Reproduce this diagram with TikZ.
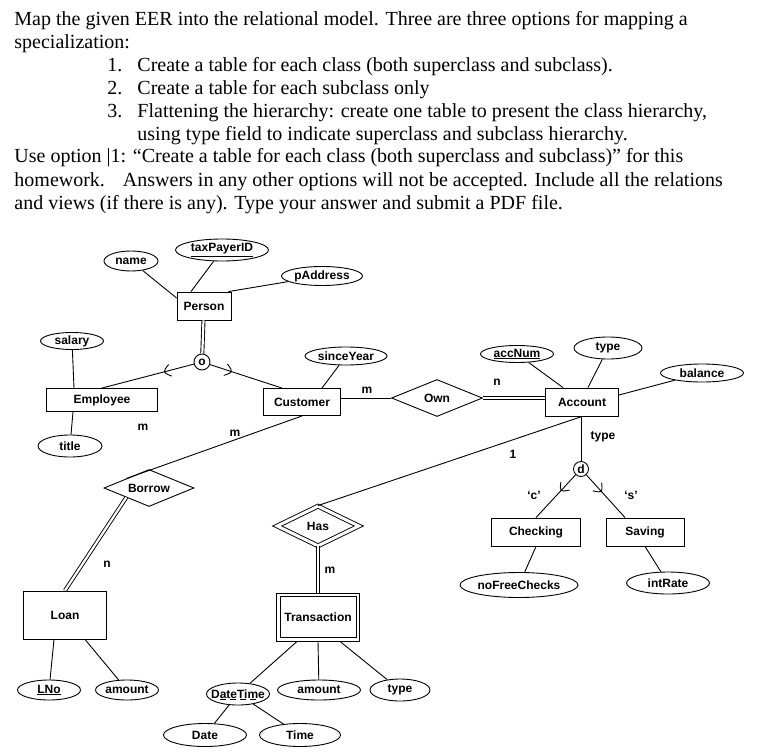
\documentclass[tikz,border=0pt]{standalone}
\usepackage{fontspec}
\setmainfont{Liberation Serif}
\setsansfont{Liberation Sans}
\usetikzlibrary{shapes.geometric,calc}
\newcommand{\subarc}[2]{\draw ($($(#1)!4pt!(#2)$)!6pt!90:(#2)$) .. controls ($(#1)!4pt!180:(#2)$) .. ($($(#1)!4pt!(#2)$)!6pt!-90:(#2)$);}
\begin{document}
\begin{tikzpicture}[x=1pt,y=-1pt,line width=0.9pt]
		\tikzstyle{every node}=[font=\sffamily\bfseries\fontsize{12}{14}\selectfont]
		\tikzstyle{para}=[anchor=base west,inner sep=0pt,font=\rmfamily\fontsize{20}{23}\selectfont]
		\tikzstyle{entity}=[draw,rectangle,inner sep=0pt]
		\tikzstyle{attr}=[draw,ellipse,inner sep=0pt]
		\tikzstyle{rel}=[draw,diamond,aspect=2.4,inner sep=0pt]
		\tikzstyle{spec}=[draw,circle,inner sep=0pt]
		\tikzstyle{card}=[inner sep=0pt]
		\tikzstyle{twin}=[double,double distance=2.2pt]
		\useasboundingbox (0,0) rectangle (767,754);
		\node[para](t1)at(14,26){Map the given EER into the relational model. Three are three options for mapping a};
		\node[para](t2)at(14,49){specialization:};
		\node[para](i1)at(107,72){1.};
		\node[para](t3)at(137,72){Create a table for each class (both superclass and subclass).};
		\node[para](i2)at(107,95){2.};
		\node[para](t4)at(137,95){Create a table for each subclass only};
		\node[para](i3)at(107,118){3.};
		\node[para](t5)at(137,118){Flattening the hierarchy: create one table to present the class hierarchy,};
		\node[para](t6)at(137,141){using type field to indicate superclass and subclass hierarchy.};
		\node[para](t7)at(14,163){Use option \textbar1: “Create a table for each class (both superclass and subclass)” for this};
		\node[para](t8)at(14,186){homework.\hspace{18pt}Answers in any other options will not be accepted. Include all the relations};
		\node[para](t9)at(14,209){and views (if there is any). Type your answer and submit a PDF file.};
		\node[entity,minimum width=54pt,minimum height=28pt](person)at(204,306){Person};
		\node[entity,minimum width=111pt,minimum height=23pt](employee)at(102,400){Employee};
		\node[entity,minimum width=77pt,minimum height=27pt](customer)at(302,402){Customer};
		\node[entity,minimum width=73pt,minimum height=28pt](account)at(582,402){Account};
		\node[entity,minimum width=89pt,minimum height=28pt](checking)at(536,532){Checking};
		\node[entity,minimum width=78pt,minimum height=28pt](saving)at(645,532){Saving};
		\node[entity,minimum width=83pt,minimum height=48pt](loan)at(65,615){Loan};
		\node[entity,minimum width=83pt,minimum height=48pt](transaction)at(318,617){Transaction};
		\draw ([shift={(4pt,4pt)}]transaction.south west) rectangle ([shift={(-4pt,-4pt)}]transaction.north east);
		\node[attr,minimum width=54pt,minimum height=20pt](name)at(131,261){name};
		\node[attr,minimum width=93pt,minimum height=22pt](taxid)at(222,250){\underline{taxPayerID}};
		\node[attr,minimum width=81pt,minimum height=19pt](paddress)at(322,276){pAddress};
		\node[attr,minimum width=63pt,minimum height=17pt](salary)at(72,341){salary};
		\node[attr,minimum width=64pt,minimum height=22pt](title)at(70,446){title};
		\node[attr,minimum width=82pt,minimum height=18pt](sinceyear)at(346,356){sinceYear};
		\node[attr,minimum width=73pt,minimum height=17pt](accnum)at(517,354){\underline{accNum}};
		\node[attr,minimum width=68pt,minimum height=22pt](acctype)at(608,348){type};
		\node[attr,minimum width=83pt,minimum height=18pt](balance)at(702,373){balance};
		\node[attr,minimum width=118pt,minimum height=25pt](nofree)at(519,585){noFreeChecks};
		\node[attr,minimum width=83pt,minimum height=22pt](intrate)at(668,583){intRate};
		\node[attr,minimum width=63pt,minimum height=20pt](lno)at(49,690){\underline{LNo}};
		\node[attr,minimum width=63pt,minimum height=20pt](lamount)at(127,690){amount};
		\node[attr,inner xsep=-5pt,minimum width=63pt,minimum height=22pt](datetime)at(238,694){DateTime};
		\node[attr,minimum width=83pt,minimum height=20pt](tamount)at(319,690){amount};
		\node[attr,minimum width=60pt,minimum height=22pt](ttype)at(400,690){type};
		\node[attr,minimum width=83pt,minimum height=23pt](date)at(205,735){Date};
		\node[attr,minimum width=81pt,minimum height=23pt](time)at(300,735){Time};
		\node[rel,minimum width=91pt,minimum height=37pt](own)at(437,398){Own};
		\node[rel,minimum width=90pt,minimum height=37pt](borrow)at(149,488){Borrow};
		\node[rel,double,double distance=3pt,minimum width=82pt,minimum height=40pt](has)at(318,526){Has};
		\node[spec,minimum size=16pt](spec1)at(202,362){o};
		\node[spec,minimum size=15pt](spec2)at(581,469){d};
		\node[card](cm1)at(367,390){m};
		\node[card](cn1)at(497,382){n};
		\node[card](cm2)at(143,427){m};
		\node[card](cm3)at(235,433){m};
		\node[card](cn2)at(107,564){n};
		\node[card](c1)at(513,454){1};
		\node[card](cm4)at(330,570){m};
		\node[card](ctype)at(603,437){type};
		\node[card](cc)at(534,495){‘c’};
		\node[card](cs)at(631,495){‘s’};
		\path (name) edge ([yshift=8pt]person.west)
		(taxid) edge ([xshift=-13pt]person.north)
		(paddress) edge ([xshift=-3pt]person.north east)
		(salary) edge ([xshift=-28pt]employee.north)
		([xshift=-29pt]employee.south) edge (title)
		(sinceyear) edge ([xshift=20pt]customer.north)
		(own.west -| customer.east) edge (own.west)
		(accnum) edge ([xshift=-19pt]account.north)
		(acctype) edge ([xshift=6pt]account.north)
		(balance) edge ([yshift=7pt]account.east)
		(spec2) edge (spec2 |- account.south)
		(checking.south) edge (nofree)
		(saving.south) edge (intrate)
		(account.south) edge (has.north)
		(customer.south) edge (borrow.north west)
		([xshift=-11pt]loan.south) edge (lno)
		([xshift=20pt]loan.south) edge (lamount)
		([xshift=-21pt]transaction.south) edge (datetime)
		(transaction.south) edge (tamount)
		([xshift=22pt]transaction.south) edge (ttype)
		(datetime) edge (date)
		(datetime) edge (time);
		\draw[twin] (person) -- (spec1);
		\draw[twin] (own.east) -- (own.east -| account.west);
		\draw[twin] (borrow.south west) -- (loan.north);
		\draw[twin] (has.south) -- (transaction.north);
		\draw (spec1) -- (employee.north) coordinate[pos=0.3] (arc1);
		\draw (spec1) -- ([xshift=-20pt]customer.north) coordinate[pos=0.27] (arc2);
		\draw (spec2) -- (checking.north) coordinate[pos=0.33] (arc3);
		\draw (spec2) -- ([xshift=-20pt]saving.north) coordinate[pos=0.35] (arc4);
		\subarc{arc1}{spec1}
		\subarc{arc2}{spec1}
		\subarc{arc3}{spec2}
		\subarc{arc4}{spec2}
		\draw[dash pattern=on 6pt off 4pt] ([xshift=-18pt,yshift=-5.5pt]datetime.center) -- ([xshift=19pt,yshift=-5.5pt]datetime.center);
		\end{tikzpicture}
\end{document}
